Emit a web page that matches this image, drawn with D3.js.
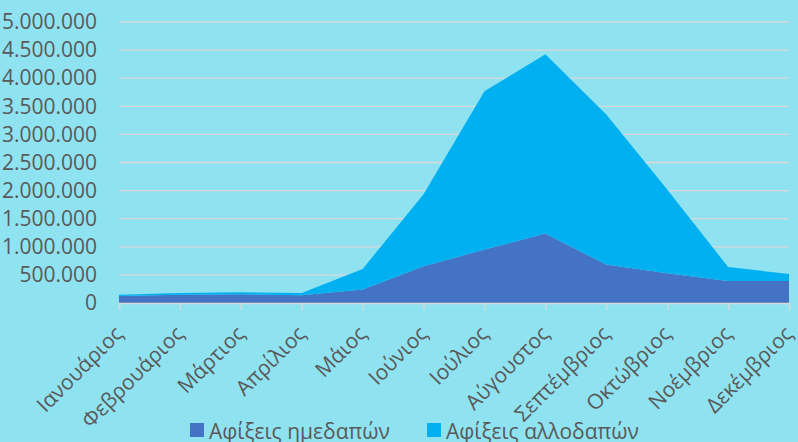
<!DOCTYPE html>
<html>
<head>
<meta charset="utf-8">
<script src="https://cdn.jsdelivr.net/npm/d3@7"></script>
<style>
  body { margin: 0; background: #8fe3f1; }
  svg { display: block; font-family: "Open Sans", sans-serif; }
</style>
</head>
<body>
<div id="chart"></div>
<script>
// Months on the x axis
const months = ["Ιανουάριος", "Φεβρουάριος", "Μάρτιος", "Απρίλιος", "Μάιος", "Ιούνιος",
                "Ιούλιος", "Αύγουστος", "Σεπτέμβριος", "Οκτώβριος", "Νοέμβριος", "Δεκέμβριος"];

// Series values
const domestic = [125000, 149000, 155000, 137000, 238000, 653000, 950000, 1235000, 683000, 528000, 391000, 391000];
const foreign  = [24000, 29000, 35000, 41000, 367000, 1281000, 2817000, 3190000, 2669000, 1490000, 250000, 125000];

const seriesNames = ["Αφίξεις ημεδαπών", "Αφίξεις αλλοδαπών"];
const yTicks = [0, 500000, 1000000, 1500000, 2000000, 2500000, 3000000, 3500000, 4000000, 4500000, 5000000];

const width = 798, height = 442;
const margin = {top: 22, right: 9, bottom: 139, left: 119};
const plotW = width - margin.left - margin.right;
const plotH = height - margin.top - margin.bottom;

const colors = ["#4472c4", "#00b0f0"];
const textColor = "#595959";
const gridColor = "#d9d9d9";

const locale = d3.formatLocale({decimal: ",", thousands: ".", grouping: [3], currency: ["", "€"]});
const fmt = locale.format(",");

const svg = d3.select("#chart")
    .append("svg")
    .attr("width", width)
    .attr("height", height);

const g = svg.append("g")
    .attr("transform", "translate(" + margin.left + "," + margin.top + ")");

// Scales
const xScale = d3.scalePoint()
    .domain(months)
    .range([0, plotW]);

const yScale = d3.scaleLinear()
    .domain([0, 5000000])
    .range([plotH, 0]);

// Gridlines
g.selectAll(".grid")
    .data(yTicks.filter(d => d > 0))
    .enter().append("line")
    .attr("class", "grid")
    .attr("x1", 0)
    .attr("x2", plotW)
    .attr("y1", d => yScale(d))
    .attr("y2", d => yScale(d))
    .attr("stroke", gridColor)
    .attr("stroke-width", 1.3);

// Stacked areas
const table = months.map((m, i) => ({month: m, a: domestic[i], b: foreign[i]}));
const stack = d3.stack().keys(["a", "b"]);
const layers = stack(table);

const area = d3.area()
    .x(d => xScale(d.data.month))
    .y0(d => yScale(d[0]))
    .y1(d => yScale(d[1]));

g.selectAll(".layer")
    .data(layers)
    .enter().append("path")
    .attr("class", "layer")
    .attr("d", area)
    .attr("fill", (d, i) => colors[i]);

// X axis
const xAxis = g.append("g")
    .attr("transform", "translate(0," + plotH + ")")
    .call(d3.axisBottom(xScale).tickSize(7).tickFormat(""));
xAxis.select(".domain").attr("stroke", gridColor).attr("stroke-width", 1.3);
xAxis.selectAll(".tick line").attr("stroke", gridColor).attr("stroke-width", 1.3);

g.selectAll(".xlabel")
    .data(months)
    .enter().append("text")
    .attr("class", "xlabel")
    .attr("transform", d => "translate(" + (xScale(d) + 5) + "," + (plotH + 32) + ") rotate(-45)")
    .attr("text-anchor", "end")
    .attr("fill", textColor)
    .style("font-size", "21px")
    .text(d => d);

// Y axis labels
const yAxis = g.append("g")
    .call(d3.axisLeft(yScale).tickValues(yTicks).tickSize(0).tickPadding(22).tickFormat(fmt));
yAxis.select(".domain").remove();
yAxis.selectAll("text")
    .attr("fill", textColor)
    .style("font-size", "21px")
    .style("font-family", "'Open Sans', sans-serif");

// Legend
const legendX = [190, 427];
const legend = svg.selectAll(".legend")
    .data(seriesNames)
    .enter().append("g")
    .attr("class", "legend")
    .attr("transform", (d, i) => "translate(" + legendX[i] + ",423)");

legend.append("rect")
    .attr("width", 14)
    .attr("height", 14)
    .attr("fill", (d, i) => colors[i]);

legend.append("text")
    .attr("x", 19)
    .attr("y", 16)
    .attr("fill", textColor)
    .style("font-size", "21px")
    .text(d => d);
</script>
</body>
</html>
